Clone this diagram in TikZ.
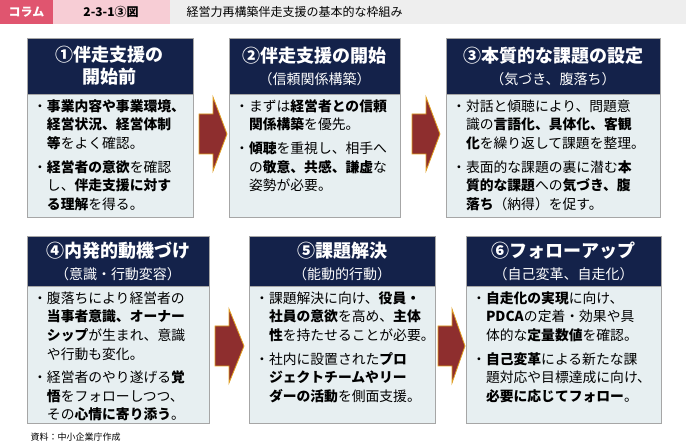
\documentclass[tikz,border=0pt]{standalone}
\usepackage{fontspec}
\setmainfont{Noto Sans CJK JP}
\definecolor{navy}{HTML}{14224A}
\definecolor{bodyc}{HTML}{E7EFF1}
\definecolor{arr}{HTML}{8E2E2E}
\definecolor{gold}{HTML}{E0A020}
\definecolor{pinkA}{HTML}{E0556F}
\definecolor{pinkB}{HTML}{F7CDD5}
\definecolor{grayB}{HTML}{EEEEEE}
\newcommand{\bl}[1]{\begin{tabular}[t]{@{}l@{}l@{}}・&#1\end{tabular}}
\tikzset{
 hdr/.style={fill=navy,draw=gray!70},
 bdy/.style={fill=bodyc,draw=gray!70,line width=0.8pt},
 htxt/.style={text=white,align=center,font=\fontsize{18}{22}\selectfont\bfseries},
 btxt/.style={anchor=north west,align=left,inner sep=0pt,font=\fontsize{13.8}{18.6}\selectfont},
 arrw/.style={fill=arr,draw=gold,line width=0.8pt}
}
\newcommand{\sub}[1]{{\fontsize{14}{18}\selectfont\mdseries #1}}
\newcommand{\abox}[6]{% name, x1,x2,y1(top),y2(header bottom),y3(bottom)
 \draw[bdy] (#2,#5) rectangle (#3,#6);
 \draw[hdr] (#2,#4) rectangle (#3,#5);
 \coordinate (#1h) at ({(#2+#3)/2},{(#4+#5)/2});
 \coordinate (#1b) at ({#2+6},{#5+4});
}
\newcommand{\arrowat}[4]{% name, x1, x2, yc
 \fill[arrw] (#2,#4-20) -- (#2+14,#4-20) -- (#2+14,#4-37) -- (#3,#4) -- (#2+14,#4+37) -- (#2+14,#4+20) -- (#2,#4+20) -- cycle;
 \coordinate (#1) at (#2,#4);
}
\begin{document}
\begin{tikzpicture}[x=1pt,y=-1pt]
\useasboundingbox (0,0) rectangle (686,446);
\fill[white] (0,0) rectangle (686,446);
\fill[pinkA] (0,0) rectangle (53,24);
\fill[pinkB] (53,0) rectangle (170,24);
\fill[grayB] (170,0) rectangle (686,24);
\node[text=white,font=\fontsize{12}{14}\selectfont\bfseries] (t1) at (26.5,12) {コラム};
\node[font=\fontsize{12}{14}\selectfont\bfseries] (t2) at (111,12) {2-3-1③図};
\node[anchor=west,font=\fontsize{12}{14}\selectfont] (t3) at (183,12) {経営力再構築伴走支援の基本的な枠組み};
\node[anchor=west,font=\fontsize{9}{11}\selectfont] (src) at (27,437) {資料：中小企業庁作成};

\abox{A}{27}{193}{38}{94}{217}
\abox{B}{229}{400}{38}{94}{217}
\abox{C}{446}{660}{38}{94}{217}
\abox{D}{27}{209}{236}{286}{423}
\abox{E}{249}{435}{236}{286}{423}
\abox{F}{466}{661}{236}{286}{423}

\arrowat{a1}{199}{227}{134}
\arrowat{a2}{412}{440}{134}
\arrowat{a3}{215}{244}{346}
\arrowat{a4}{438}{465}{346}

\node[htxt] (hA) at (Ah) {①伴走支援の\\開始前};
\node[htxt] (hB) at (Bh) {②伴走支援の開始\\\sub{（信頼関係構築）}};
\node[htxt] (hC) at (Ch) {③本質的な課題の設定\\\sub{（気づき、腹落ち）}};
\node[htxt] (hD) at (Dh) {④内発的動機づけ\\\sub{（意識・行動変容）}};
\node[htxt] (hE) at (Eh) {⑤課題解決\\\sub{（能動的行動）}};
\node[htxt] (hF) at (Fh) {⑥フォローアップ\\\sub{（自己変革、自走化）}};

\node[btxt] (bA) at (Ab) {\bl{\textbf{事業内容や事業環境、}\\&\textbf{経営状況、経営体制}\\&\textbf{等}をよく確認。}\\[4pt]
\bl{\textbf{経営者の意欲}を確認\\&し、\textbf{伴走支援に対す}\\&\textbf{る理解}を得る。}};
\node[btxt] (bB) at (Bb) {\bl{まずは\textbf{経営者との信頼}\\&\textbf{関係構築}を優先。}\\[4pt]
\bl{\textbf{傾聴}を重視し、相手へ\\&の\textbf{敬意、共感、謙虚}な\\&姿勢が必要。}};
\node[btxt] (bC) at (Cb) {\bl{対話と傾聴により、問題意\\&識の\textbf{言語化、具体化、客観}\\&\textbf{化}を繰り返して課題を整理。}\\[4pt]
\bl{表面的な課題の裏に潜む\textbf{本}\\&\textbf{質的な課題}への\textbf{気づき、腹}\\&\textbf{落ち}（納得）を促す。}};
\node[btxt] (bD) at (Db) {\bl{腹落ちにより経営者の\\&\textbf{当事者意識、オーナー}\\&\textbf{シップ}が生まれ、意識\\&や行動も変化。}\\[4pt]
\bl{経営者のやり遂げる\textbf{覚}\\&\textbf{悟}をフォローしつつ、\\&その\textbf{心情に寄り添う}。}};
\node[btxt] (bE) at (Eb) {\bl{課題解決に向け、\textbf{役員・}\\&\textbf{社員の意欲}を高め、\textbf{主体}\\&\textbf{性}を持たせることが必要。}\\[4pt]
\bl{社内に設置された\textbf{プロ}\\&\textbf{ジェクトチームやリー}\\&\textbf{ダーの活動}を側面支援。}};
\node[btxt] (bF) at (Fb) {\bl{\textbf{自走化の実現}に向け、\\&\textbf{PDCA}の定着・効果や具\\&体的な\textbf{定量数値}を確認。}\\[4pt]
\bl{\textbf{自己変革}による新たな課\\&題対応や目標達成に向け、\\&\textbf{必要に応じてフォロー}。}};
\end{tikzpicture}
\end{document}
